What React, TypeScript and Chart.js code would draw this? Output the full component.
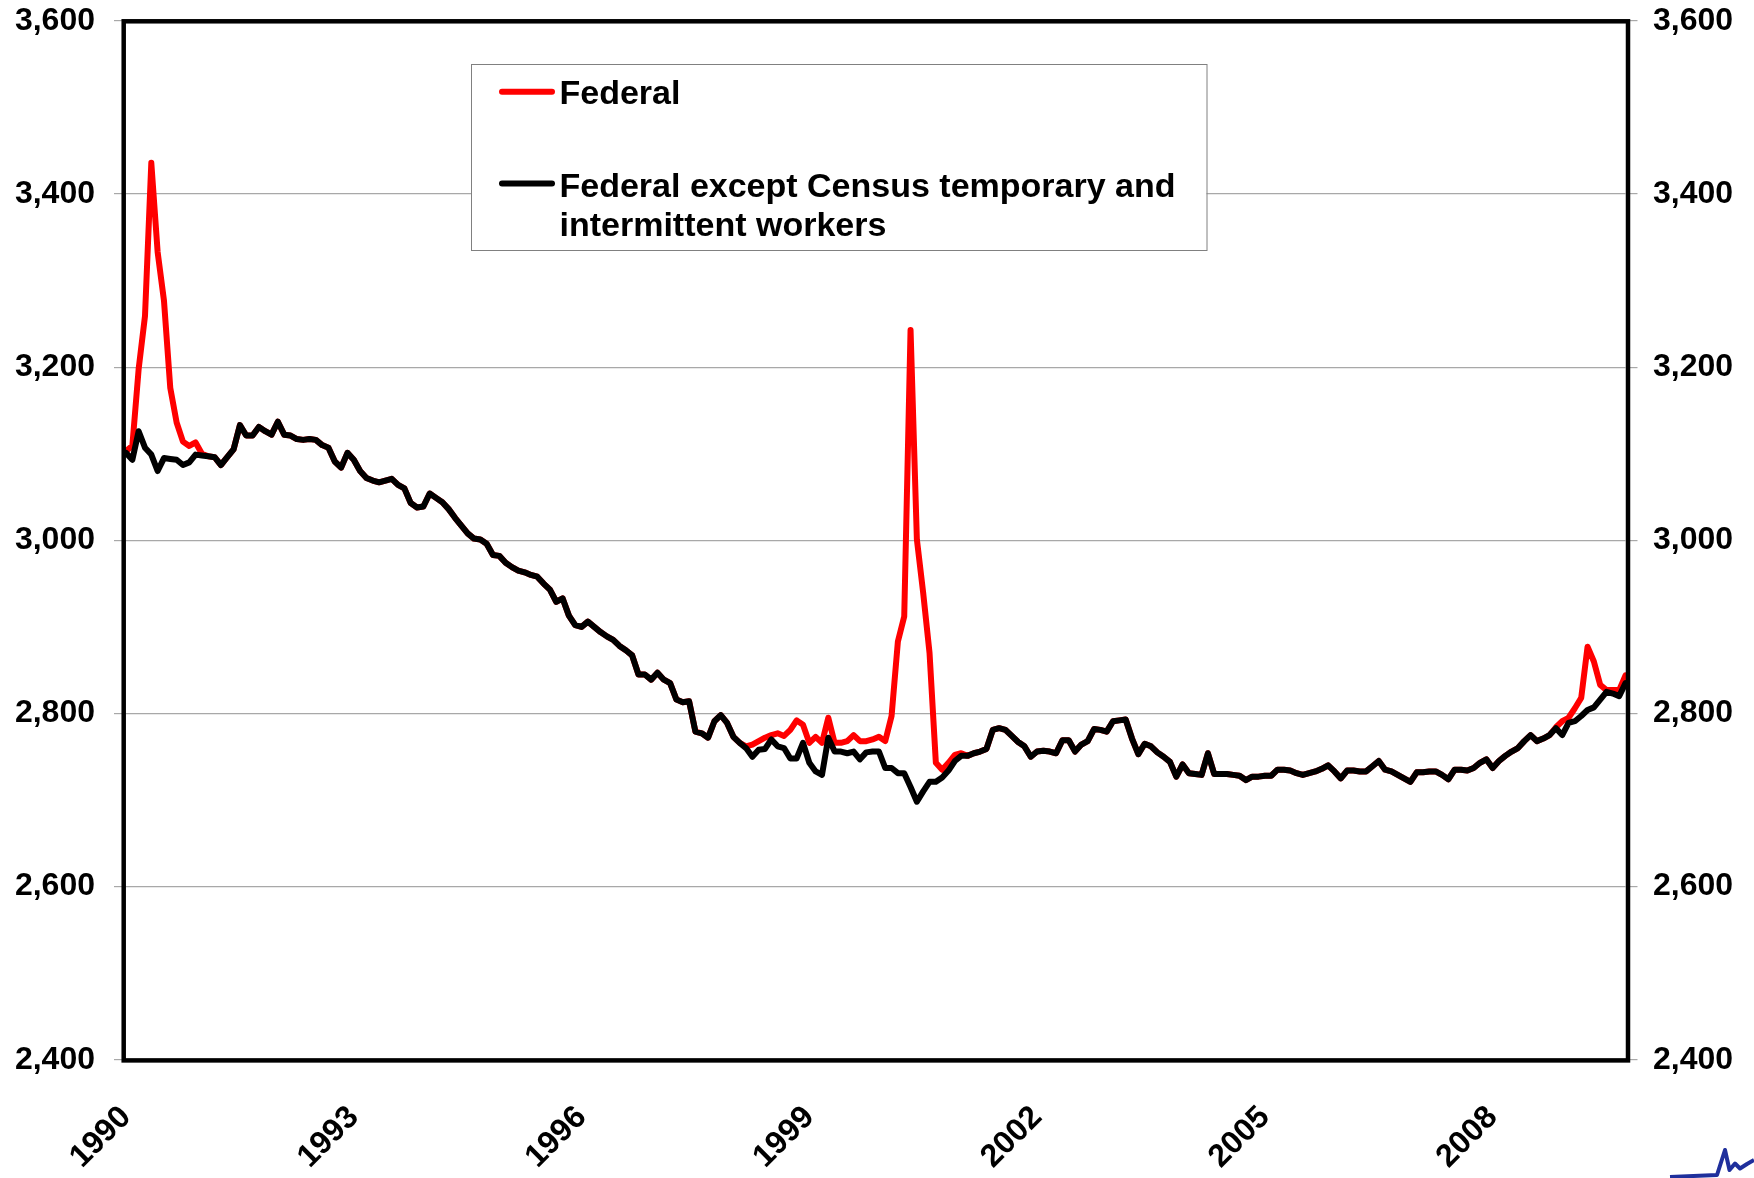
import React, { useEffect, useRef } from 'react';
import { Chart, registerables } from 'chart.js';

Chart.register(...registerables);

const FONT = "'Liberation Sans', Arial, Helvetica, sans-serif";

// Monthly data, Jan 1990 .. Oct 2009 (thousands)
const START_YEAR = 1990;

const federalExCensus: number[] = [
  3101, 3093, 3126, 3107, 3099, 3080, 3095, 3094, 3093, 3087, 3090, 3099,
  3098, 3097, 3096, 3087, 3096, 3105, 3133, 3121, 3121, 3131, 3126, 3122,
  3137, 3122, 3121, 3117, 3116, 3117, 3116, 3110, 3107, 3091, 3084, 3101,
  3093, 3080, 3072, 3069, 3067, 3069, 3071, 3064, 3060, 3043, 3038, 3039,
  3054, 3049, 3044, 3036, 3026, 3017, 3008, 3002, 3001, 2996, 2983, 2982,
  2974, 2969, 2965, 2963, 2960, 2958, 2950, 2943, 2929, 2933, 2913, 2902,
  2900, 2906, 2900, 2894, 2889, 2885, 2878, 2873, 2867, 2845, 2845, 2839,
  2847, 2839, 2835, 2816, 2813, 2814, 2779, 2777, 2772, 2791, 2798, 2789,
  2773, 2766, 2760, 2750, 2758, 2759, 2770, 2762, 2760, 2748, 2748, 2766,
  2743, 2733, 2729, 2772, 2756, 2756, 2754, 2756, 2747, 2755, 2756, 2756,
  2737, 2737, 2731, 2731, 2715, 2698, 2710, 2721, 2721, 2726, 2734, 2745,
  2751, 2751, 2754, 2756, 2759, 2781, 2783, 2781, 2774, 2767, 2762, 2750,
  2756, 2757, 2756, 2754, 2769, 2769, 2756, 2764, 2768, 2782, 2781, 2779,
  2791, 2792, 2793, 2771, 2753, 2765, 2762, 2755, 2750, 2744, 2727, 2741,
  2731, 2730, 2729, 2754, 2730, 2730, 2730, 2729, 2728, 2723, 2727, 2727,
  2728, 2728, 2735, 2735, 2734, 2731, 2729, 2731, 2733, 2736, 2740, 2733,
  2725, 2734, 2734, 2733, 2733, 2739, 2745, 2735, 2733, 2729, 2725, 2721,
  2732, 2732, 2733, 2733, 2729, 2724, 2735, 2735, 2734, 2737, 2743, 2747,
  2737, 2745, 2751, 2756, 2760, 2768, 2775, 2768, 2771, 2775, 2783, 2775,
  2789, 2791, 2797, 2804, 2807, 2816, 2825, 2823, 2820, 2835,
];

const federal: number[] = [
  3103, 3109, 3198, 3259, 3436, 3333, 3277, 3176, 3136, 3114, 3109, 3113,
  3100, 3097, 3096, 3087, 3096, 3105, 3133, 3121, 3121, 3131, 3126, 3122,
  3137, 3122, 3121, 3117, 3116, 3117, 3116, 3110, 3107, 3091, 3084, 3101,
  3093, 3080, 3072, 3069, 3067, 3069, 3071, 3064, 3060, 3043, 3038, 3039,
  3054, 3049, 3044, 3036, 3026, 3017, 3008, 3002, 3001, 2996, 2983, 2982,
  2974, 2969, 2965, 2963, 2960, 2958, 2950, 2943, 2929, 2933, 2913, 2902,
  2900, 2906, 2900, 2894, 2889, 2885, 2878, 2873, 2867, 2845, 2845, 2839,
  2847, 2839, 2835, 2816, 2813, 2814, 2779, 2777, 2772, 2791, 2798, 2789,
  2773, 2766, 2762, 2764, 2768, 2772, 2775, 2777, 2774, 2781, 2792, 2787,
  2766, 2773, 2766, 2795, 2766, 2766, 2768, 2775, 2768, 2768, 2770, 2773,
  2768, 2797, 2883, 2912, 3243, 3001, 2939, 2870, 2743, 2735, 2743, 2752,
  2754, 2751, 2754, 2756, 2759, 2781, 2783, 2781, 2774, 2767, 2762, 2750,
  2756, 2757, 2756, 2754, 2769, 2769, 2756, 2764, 2768, 2782, 2781, 2779,
  2791, 2792, 2793, 2771, 2753, 2765, 2762, 2755, 2750, 2744, 2727, 2741,
  2731, 2730, 2729, 2754, 2730, 2730, 2730, 2729, 2728, 2723, 2727, 2727,
  2728, 2728, 2735, 2735, 2734, 2731, 2729, 2731, 2733, 2736, 2740, 2733,
  2725, 2734, 2734, 2733, 2733, 2739, 2745, 2735, 2733, 2729, 2725, 2721,
  2732, 2732, 2733, 2733, 2729, 2724, 2735, 2735, 2734, 2737, 2743, 2747,
  2737, 2745, 2751, 2756, 2760, 2768, 2775, 2768, 2771, 2775, 2784, 2791,
  2795, 2806, 2818, 2877, 2860, 2833, 2827, 2827, 2827, 2844,
];

const months: string[] = federal.map(
  (_, i) => `${START_YEAR + Math.floor(i / 12)}-${String((i % 12) + 1).padStart(2, '0')}`
);

const yearTicks: string[] = ['1990', '1993', '1996', '1999', '2002', '2005', '2008'];
const TICK_EVERY = 36;

const Y_MIN = 2400;
const Y_MAX = 3600;
const Y_STEP = 200;

const seriesLabels = ['Federal', 'Federal except Census temporary and intermittent workers'];
const seriesColors = ['#ff0000', '#000000'];

const framePlugin = {
  id: 'frame',
  afterDatasetsDraw(chart: any) {
    const { ctx, chartArea } = chart;
    ctx.save();
    ctx.strokeStyle = '#000';
    ctx.lineWidth = 4.5;
    ctx.lineJoin = 'miter';
    ctx.strokeRect(
      chartArea.left - 2.3,
      chartArea.top + 0.4,
      chartArea.right - chartArea.left + 4.8,
      chartArea.bottom - chartArea.top + 0.3
    );
    ctx.restore();
  },
};

const boxLegendPlugin = {
  id: 'boxLegend',
  afterDraw(chart: any) {
    const { ctx } = chart;
    const bx = 471, by = 64, bw = 735.5, bh = 186;
    ctx.save();
    ctx.fillStyle = '#ffffff';
    ctx.fillRect(bx, by, bw, bh);
    ctx.strokeStyle = '#808080';
    ctx.lineWidth = 1;
    ctx.strokeRect(bx + 0.5, by + 0.5, bw, bh);

    ctx.font = `bold 34px ${FONT}`;
    ctx.textBaseline = 'alphabetic';
    ctx.textAlign = 'left';
    const textX = 559.5;
    const maxW = bx + bw - textX - 12;
    const rows = [
      { lineY: 91.7, baseY: 104 },
      { lineY: 183.5, baseY: 196.5 },
    ];
    chart.data.datasets.forEach((ds: any, k: number) => {
      const r = rows[k];
      ctx.strokeStyle = ds.borderColor;
      ctx.lineWidth = 6;
      ctx.lineCap = 'round';
      ctx.beginPath();
      ctx.moveTo(502, r.lineY);
      ctx.lineTo(552, r.lineY);
      ctx.stroke();
      const words = String(ds.label).split(' ');
      const lines: string[] = [];
      let cur = '';
      words.forEach((w) => {
        const test = cur ? cur + ' ' + w : w;
        if (ctx.measureText(test).width > maxW && cur) {
          lines.push(cur);
          cur = w;
        } else cur = test;
      });
      if (cur) lines.push(cur);
      ctx.fillStyle = '#000';
      lines.forEach((ln, j) => ctx.fillText(ln, textX, r.baseY + j * 39));
    });
    ctx.restore();
  },
};

const logoPlugin = {
  id: 'cornerLogo',
  afterDraw(chart: any) {
    const { ctx, width, height } = chart;
    const pts = [
      [-84, -1], [-37, -3], [-29, -28], [-24.5, -8], [-19, -14.5], [-14, -9.5], [-7, -14], [0, -18],
    ];
    ctx.save();
    ctx.strokeStyle = '#1f2f9c';
    ctx.lineWidth = 4;
    ctx.lineJoin = 'round';
    ctx.beginPath();
    pts.forEach(([dx, dy], i) => {
      const x = width + dx, y = height + dy;
      if (i === 0) ctx.moveTo(x, y); else ctx.lineTo(x, y);
    });
    ctx.stroke();
    ctx.restore();
  },
};

export default function App() {
  const ref = useRef<HTMLCanvasElement>(null);

  useEffect(() => {
    document.body.style.margin = '0';
    const canvas = ref.current;
    if (!canvas) return;
    const tickFont = { family: FONT, size: 32, weight: 'bold' as const };
    const fmt = (v: any) => Number(v).toLocaleString('en-US');
    const chart = new Chart(canvas, {
      type: 'line',
      data: {
        labels: months,
        datasets: [
          {
            label: seriesLabels[0],
            data: federal,
            borderColor: seriesColors[0],
            backgroundColor: seriesColors[0],
            borderWidth: 6,
            pointRadius: 0,
            tension: 0,
            borderJoinStyle: 'round',
            borderCapStyle: 'round',
            order: 1,
            yAxisID: 'y',
          },
          {
            label: seriesLabels[1],
            data: federalExCensus,
            borderColor: seriesColors[1],
            backgroundColor: seriesColors[1],
            borderWidth: 6,
            pointRadius: 0,
            tension: 0,
            borderJoinStyle: 'round',
            borderCapStyle: 'round',
            order: 0,
            yAxisID: 'y',
          },
        ],
      },
      options: {
        responsive: false,
        maintainAspectRatio: false,
        animation: false,
        devicePixelRatio: 1,
        layout: { padding: { top: 20.9, left: 0, right: 0, bottom: 0 } },
        plugins: {
          legend: { display: false },
          title: { display: false },
          tooltip: { enabled: false },
        },
        scales: {
          x: {
            type: 'category',
            position: 'bottom',
            grid: { display: false, drawTicks: false },
            border: { display: false },
            ticks: {
              autoSkip: false,
              maxRotation: 45,
              minRotation: 45,
              padding: 39,
              color: '#000',
              font: tickFont,
              callback: (_v: any, index: number) =>
                index % TICK_EVERY === 0 ? yearTicks[index / TICK_EVERY] : null,
            },
            afterFit: (s: any) => {
              s.height = 118.3;
              s.paddingLeft = 0;
              s.paddingRight = 0;
            },
          },
          y: {
            type: 'linear',
            position: 'left',
            min: Y_MIN,
            max: Y_MAX,
            grid: { color: '#a8a8a8', lineWidth: 1.2, drawTicks: true, tickLength: 12 },
            border: { display: false },
            ticks: { stepSize: Y_STEP, padding: 19, color: '#000', font: tickFont, callback: fmt },
            afterFit: (s: any) => {
              s.width = 126;
              s.paddingTop = 0;
              s.paddingBottom = 0;
            },
          },
          y2: {
            type: 'linear',
            position: 'right',
            min: Y_MIN,
            max: Y_MAX,
            grid: { color: '#a8a8a8', lineWidth: 1.2, drawOnChartArea: false, drawTicks: true, tickLength: 12 },
            border: { display: false },
            ticks: { stepSize: Y_STEP, padding: 15.5, color: '#000', font: tickFont, callback: fmt },
            afterFit: (s: any) => {
              s.width = 128.5;
              s.paddingTop = 0;
              s.paddingBottom = 0;
            },
          },
        },
      } as any,
      plugins: [framePlugin, boxLegendPlugin, logoPlugin],
    });
    return () => chart.destroy();
  }, []);

  return (
    <div style={{ position: 'absolute', left: 0, top: 0, width: 1754, height: 1178, background: '#fff' }}>
      <canvas ref={ref} width={1754} height={1178} style={{ display: 'block', width: 1754, height: 1178 }} />
    </div>
  );
}
